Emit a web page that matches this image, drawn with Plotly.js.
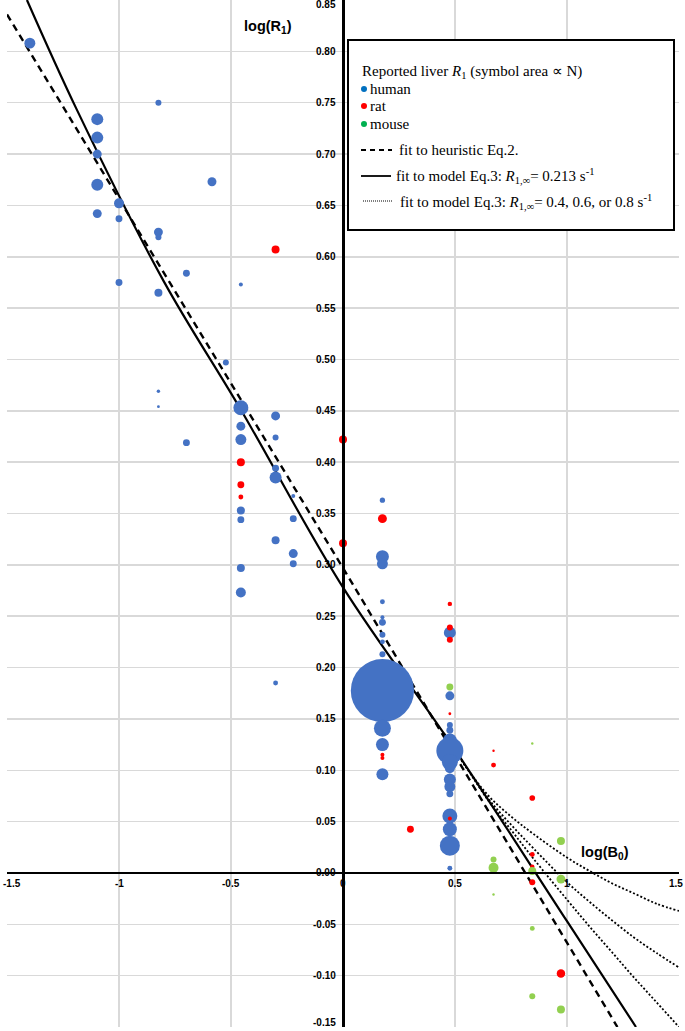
<!DOCTYPE html>
<html><head><meta charset="utf-8">
<script src="https://cdn.plot.ly/plotly-3.0.1.min.js"></script>
<style>html,body{margin:0;padding:0;background:#fff;} #chart{width:685px;height:1031px;}</style>
</head><body><div id="chart"></div>
<script>
// ---- data ----
// human
const humanX = [-1.398,-0.824,-1.097,-1.097,-1.097,-1.097,-1.097,-1.0,-1.0,-1.0,
  -0.824,-0.824,-0.824,-0.824,-0.824,-0.585,-0.699,-0.699,-0.523,
  -0.456,-0.456,-0.456,-0.456,-0.456,-0.456,-0.456,-0.456,
  -0.301,-0.301,-0.301,-0.301,-0.301,-0.301,
  -0.222,-0.222,-0.222,-0.222,
  0.176,0.176,0.176,0.176,0.176,0.176,0.176,0.176,0.176,0.176,0.176,0.176,0.176,
  0.477,0.477,0.477,0.477,0.477,0.477,0.477,0.477,0.477,0.477,0.477,0.477,0.477,0.477,0.477];
const humanY = [0.808,0.750,0.734,0.716,0.700,0.670,0.642,0.652,0.637,0.575,
  0.624,0.619,0.565,0.469,0.454,0.673,0.584,0.419,0.497,
  0.573,0.453,0.435,0.422,0.353,0.344,0.297,0.273,
  0.445,0.424,0.394,0.385,0.324,0.185,
  0.367,0.345,0.311,0.301,
  0.363,0.308,0.301,0.264,0.249,0.244,0.232,0.225,0.213,0.1775,0.141,0.125,0.096,
  0.234,0.1725,0.144,0.139,0.129,0.119,0.108,0.102,0.091,0.084,0.077,0.0555,0.0425,0.0266,0.0046];
const humanN = [30,9,36,36,20,36,20,25,12,12,
  20,9,16,3,2,20,12,12,9,
  4,56,20,30,16,12,16,25,
  20,9,12,36,16,6,
  4,12,20,12,
  7,42,30,6,4,12,9,6,9,1000,72,42,36,
  36,20,9,12,49,182,64,25,36,30,12,56,49,100,6];
// rat
const ratX = [-0.301,-0.456,-0.456,-0.456,0,0,0.176,0.176,0.176,0.301,
  0.477,0.477,0.477,0.477,0.477,0.672,0.672,0.845,0.845,0.845,0.845,0.973];
const ratY = [0.607,0.400,0.378,0.366,0.422,0.321,0.345,0.115,0.112,0.0425,
  0.262,0.239,0.227,0.155,0.053,0.119,0.105,0.073,0.018,0.006,-0.009,-0.098];
const ratN = [16,16,12,6,16,16,20,4,4,12,
  5,9,9,2,4,1.5,6,8,6,5,9,18];
// mouse
const mouseX = [0.477,0.672,0.672,0.672,0.845,0.845,0.845,0.845,0.973,0.973,0.973];
const mouseY = [0.181,0.013,0.005,-0.021,0.126,0.002,-0.054,-0.120,0.031,-0.006,-0.133];
const mouseN = [12,9,25,1.5,1.5,16,6,9,16,20,16];
// fit curves
const dashX = [-1.5, 0, 1.225];
const dashY = [0.836, 0.297, -0.150];
const solidX = [-1.411,-1.19,-0.80,-0.456,0,0.5,1.0,1.308];
const solidY = [0.850,0.744,0.576,0.451,0.278,0.120,-0.047,-0.150];
const dotX = [0.45,0.55,0.65,0.75,0.85,1.0,1.1,1.2,1.3,1.4,1.5];
const dot08Y = [0.136,0.103,0.075,0.055,0.038,0.015,0.002,-0.010,-0.020,-0.030,-0.037];
const dot06Y = [0.136,0.103,0.072,0.047,0.024,-0.009,-0.028,-0.046,-0.063,-0.078,-0.092];
const dot04Y = [0.136,0.103,0.070,0.042,0.014,-0.026,-0.052,-0.077,-0.102,-0.126,-0.150];
// ticks
const xTickVals = [-1.5,-1,-0.5,0,0.5,1,1.5];
const xTickText = ['-1.5','-1','-0.5','0','0.5','1','1.5'];
const yTickVals = [-0.15,-0.10,-0.05,0,0.05,0.10,0.15,0.20,0.25,0.30,0.35,0.40,0.45,0.50,0.55,0.60,0.65,0.70,0.75,0.80,0.85];
const yTickText = ['-0.15','-0.10','-0.05','0.00','0.05','0.10','0.15','0.20','0.25','0.30','0.35','0.40','0.45','0.50','0.55','0.60','0.65','0.70','0.75','0.80','0.85'];

// ---- layout helpers ----
const W=685, H=1031, ML=7, MR=6, MT=0, MB=4;
const PW=W-ML-MR, PH=H-MT-MB;
const px = v => (v-ML)/PW;
const py = v => (H-MB-v)/PH;
const dia = n => n.map(v => 2*Math.sqrt(v));

const traces = [
  {x:dashX, y:dashY, mode:'lines', line:{color:'#000', width:2.4, dash:'7px,5px'}, hoverinfo:'skip'},
  {x:dotX, y:dot08Y, mode:'lines', line:{color:'#000', width:1.8, dash:'2px,2px', shape:'spline'}, hoverinfo:'skip'},
  {x:dotX, y:dot06Y, mode:'lines', line:{color:'#000', width:1.8, dash:'2px,2px', shape:'spline'}, hoverinfo:'skip'},
  {x:dotX, y:dot04Y, mode:'lines', line:{color:'#000', width:1.8, dash:'2px,2px', shape:'spline'}, hoverinfo:'skip'},
  {x:solidX, y:solidY, mode:'lines', line:{color:'#000', width:2.2, shape:'spline'}, hoverinfo:'skip'},
  {x:humanX, y:humanY, mode:'markers', name:'human', marker:{color:'#4472C4', opacity:1, size:dia(humanN), sizemode:'diameter', line:{width:0}}},
  {x:ratX, y:ratY, mode:'markers', name:'rat', marker:{color:'#FF0000', opacity:1, size:dia(ratN), sizemode:'diameter', line:{width:0}}},
  {x:mouseX, y:mouseY, mode:'markers', name:'mouse', marker:{color:'#92D050', opacity:1, size:dia(mouseN), sizemode:'diameter', line:{width:0}}}
];

const tickFont = {family:'Liberation Sans, Arial, sans-serif', size:10, color:'#000', weight:'bold'};
const serif = {family:'Liberation Serif, Times New Roman, serif', size:15, color:'#000'};
function legText(x, y, t){
  return {xref:'paper', yref:'paper', x:px(x), y:py(y), xanchor:'left', yanchor:'middle', showarrow:false, text:t, font:serif};
}
const annotations = [
  {xref:'paper', yref:'paper', x:px(268), y:py(27), xanchor:'center', yanchor:'middle', showarrow:false,
   text:'log(R<sub>1</sub>)', font:{family:'Liberation Sans, Arial, sans-serif', size:14.5, color:'#000', weight:'bold'}},
  {xref:'paper', yref:'paper', x:px(605), y:py(853), xanchor:'center', yanchor:'middle', showarrow:false,
   text:'log(B<sub>0</sub>)', font:{family:'Liberation Sans, Arial, sans-serif', size:14.5, color:'#000', weight:'bold'}},
  legText(360, 72, 'Reported liver <i>R</i><sub>1</sub> (symbol area ∝ N)'),
  legText(368, 89, 'human'),
  legText(368, 106, 'rat'),
  legText(368, 124, 'mouse'),
  legText(397, 150, 'fit to heuristic Eq.2.'),
  legText(394, 176, 'fit to model Eq.3: <i>R</i><sub>1,∞</sub>= 0.213 s<sup>-1</sup>'),
  legText(398, 202, 'fit to model Eq.3: <i>R</i><sub>1,∞</sub>= 0.4, 0.6, or 0.8 s<sup>-1</sup>')
];
// tick labels drawn at the crossing axes (edge labels kept inside the picture)
const nX = xTickVals.length, nY = yTickVals.length;
xTickVals.forEach((v,i) => annotations.push({xref:'x', yref:'y', x:v, y:0, yshift:-3,
  xanchor: i===0 ? 'left' : (i===nX-1 ? 'right' : 'center'), xshift: i===0 ? -6 : (i===nX-1 ? 6 : 0),
  yanchor:'top', showarrow:false, text:xTickText[i], font:tickFont}));
yTickVals.forEach((v,i) => annotations.push({xref:'x', yref:'y', x:0, y:v, xshift:-5, xanchor:'right',
  yanchor: i===0 ? 'bottom' : (i===nY-1 ? 'top' : 'middle'), yshift: i===0 ? -3 : (i===nY-1 ? 3 : 0),
  showarrow:false, text:yTickText[i], font:tickFont}));

function dot(cx, cy, col){
  return {type:'circle', xref:'paper', yref:'paper', x0:px(cx-3), x1:px(cx+3), y0:py(cy+3), y1:py(cy-3),
    fillcolor:col, line:{width:0}, layer:'above'};
}
const shapes = [
  {type:'rect', xref:'paper', yref:'paper', x0:px(348), x1:px(674), y0:py(40), y1:py(230),
   line:{color:'#000', width:2}, fillcolor:'#fff', layer:'above'},
  dot(364, 89, '#0070C0'), dot(364, 106, '#FF0000'), dot(364, 124, '#00B050'),
  {type:'line', xref:'paper', yref:'paper', x0:px(361), x1:px(392), y0:py(150), y1:py(150), line:{color:'#000', width:2, dash:'5px,4px'}},
  {type:'line', xref:'paper', yref:'paper', x0:px(361), x1:px(391), y0:py(176), y1:py(176), line:{color:'#000', width:1.8}},
  {type:'line', xref:'paper', yref:'paper', x0:px(363), x1:px(392), y0:py(201), y1:py(201), line:{color:'#000', width:1.2, dash:'1px,1px'}}
];

const layout = {
  width:W, height:H,
  margin:{l:ML, r:MR, t:MT, b:MB, pad:0},
  paper_bgcolor:'#fff', plot_bgcolor:'#fff',
  showlegend:false,
  xaxis:{range:[-1.5,1.5], anchor:'free', position:0.15, tickvals:xTickVals, showticklabels:false,
    showgrid:true, gridcolor:'#d9d9d9', gridwidth:1.5, zeroline:false,
    showline:true, linecolor:'#000', linewidth:2.5, ticks:'', fixedrange:true},
  yaxis:{range:[-0.15,0.85], anchor:'free', position:0.5, tickvals:yTickVals, showticklabels:false,
    showgrid:true, gridcolor:'#d9d9d9', gridwidth:1.5, zeroline:false,
    showline:true, linecolor:'#000', linewidth:3, ticks:'', fixedrange:true},
  annotations:annotations,
  shapes:shapes
};
Plotly.newPlot('chart', traces, layout, {displayModeBar:false, staticPlot:true});
</script></body></html>
